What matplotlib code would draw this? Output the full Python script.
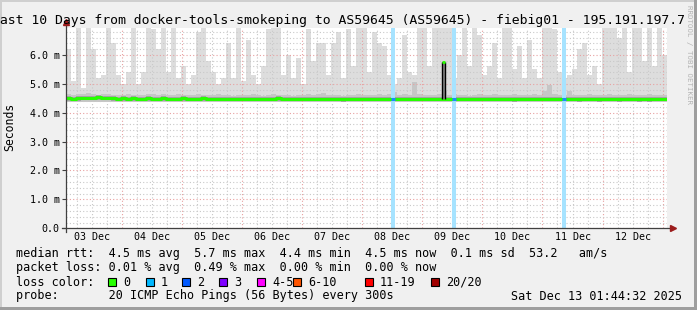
import numpy as np
import matplotlib.pyplot as plt
from matplotlib.patches import Rectangle
from matplotlib.transforms import blended_transform_factory

W, H = 697, 310

# time axis: hours since 03 Dec 00:00, 2 hour bins starting 03 Dec 01:44
t_start = 1.73
bin_h = 2.0

# top of the smoke (max rtt) per bin, ms
smoke_max = [6.2, 5.1, 7.2, 4.85, 7.2, 6.2, 5.2, 5.3, 7.2, 6.4, 5.3, 5.0,
             5.4, 7.2, 5.0, 5.4, 7.2, 6.9, 6.2, 7.2, 5.4, 7.2, 5.2, 5.6,
             5.0, 5.3, 6.8, 7.2, 5.8, 5.4, 5.0, 5.2, 6.4, 5.2, 7.2, 5.1,
             6.5, 5.3, 5.0, 5.6, 6.9, 7.2, 7.2, 5.3, 6.0, 5.2, 5.9, 5.0,
             6.9, 5.8, 6.4, 6.4, 5.3, 6.4, 6.8, 5.2, 6.9, 5.6, 7.2, 7.2,
             5.4, 6.8, 6.4, 6.3, 5.3, 5.0, 5.2, 6.7, 5.4, 5.3, 7.2, 7.2,
             5.6, 7.2, 7.2, 7.2, 7.2, 5.2, 6.0, 7.2, 5.6, 7.2, 6.7, 5.3,
             5.6, 6.4, 5.2, 7.2, 7.2, 5.5, 6.3, 5.2, 6.5, 5.5, 5.2, 7.2,
             7.2, 6.9, 5.4, 5.2, 5.3, 5.5, 6.2, 6.4, 5.3, 5.6, 5.0, 7.2,
             7.2, 7.2, 6.6, 7.2, 5.4, 7.2, 7.2, 5.8, 7.2, 5.6, 7.2, 6.0]

# top of the denser inner smoke band per bin, ms
smoke_mid = [4.64, 4.62, 4.66, 4.64, 4.68, 4.66, 4.62, 4.64, 4.65, 4.62, 4.60, 4.62,
             4.63, 4.62, 4.60, 4.62, 4.63, 4.66, 4.62, 4.63, 4.60, 4.62, 4.63, 4.62,
             4.60, 4.62, 4.63, 4.62, 4.60, 4.62, 4.63, 4.62, 4.60, 4.59, 4.62, 4.60,
             4.62, 4.63, 4.60, 4.59, 4.62, 4.63, 4.62, 4.60, 4.62, 4.59, 4.60, 4.62,
             4.63, 4.62, 4.66, 4.68, 4.62, 4.60, 4.62, 4.59, 4.60, 4.62, 4.63, 4.62,
             4.60, 4.62, 4.63, 4.62, 4.65, 4.70, 4.60, 4.63, 4.62, 5.05, 4.63, 4.62,
             4.62, 4.60, 4.63, 4.75, 4.62, 4.63, 4.62, 4.60, 4.59, 4.62, 4.63, 4.60,
             4.62, 4.63, 4.62, 4.60, 4.62, 4.63, 4.62, 4.60, 4.62, 4.63, 4.62, 4.75,
             4.95, 4.63, 4.62, 4.60, 4.75, 4.62, 4.60, 4.62, 4.63, 4.62, 4.60, 4.62,
             4.63, 4.62, 4.60, 4.62, 4.63, 4.62, 4.60, 4.62, 4.63, 4.60, 4.62, 4.60]
smoke_floor = 4.36

# median rtt per bin, ms
median_ms = [4.50, 4.49, 4.50, 4.51, 4.52, 4.52, 4.53, 4.51, 4.52, 4.50, 4.49, 4.50,
             4.49, 4.50, 4.48, 4.49, 4.50, 4.49, 4.48, 4.50, 4.49, 4.48, 4.49, 4.50,
             4.49, 4.48, 4.49, 4.50, 4.48, 4.47, 4.48, 4.49, 4.48, 4.49, 4.48, 4.47,
             4.48, 4.49, 4.48, 4.47, 4.48, 4.49, 4.50, 4.48, 4.47, 4.48, 4.49, 4.48,
             4.47, 4.48, 4.47, 4.48, 4.49, 4.48, 4.47, 4.46, 4.48, 4.49, 4.48, 4.47,
             4.48, 4.47, 4.49, 4.48, 4.47, 4.48, 4.49, 4.48, 4.47, 4.48, 4.47, 4.48,
             4.48, 4.47, 4.48, 4.49, 4.48, 4.47, 4.48, 4.47, 4.48, 4.49, 4.48, 4.47,
             4.48, 4.49, 4.47, 4.48, 4.47, 4.46, 4.48, 4.47, 4.48, 4.47, 4.48, 4.49,
             4.48, 4.47, 4.48, 4.47, 4.48, 4.47, 4.46, 4.47, 4.48, 4.47, 4.46, 4.47,
             4.48, 4.47, 4.46, 4.47, 4.48, 4.47, 4.46, 4.47, 4.46, 4.47, 4.48, 4.47]

# packet loss events (hours) and the single median spike
loss_hours = [132.4, 156.6, 200.7]
spike_hours = [151.9]
spike_ms = [5.75]

day_labels = ["03 Dec", "04 Dec", "05 Dec", "06 Dec", "07 Dec",
              "08 Dec", "09 Dec", "10 Dec", "11 Dec", "12 Dec"]
ytick_labels = ["0.0", "1.0 m", "2.0 m", "3.0 m", "4.0 m", "5.0 m", "6.0 m"]

title = "Last 10 Days from docker-tools-smokeping to AS59645 (AS59645) - fiebig01 - 195.191.197.7"
row_rtt = "median rtt:  4.5 ms avg  5.7 ms max  4.4 ms min  4.5 ms now  0.1 ms sd  53.2   am/s"
row_loss = "packet loss: 0.01 % avg  0.49 % max  0.00 % min  0.00 % now"
row_probe = "probe:       20 ICMP Echo Pings (56 Bytes) every 300s"
stamp = "Sat Dec 13 01:44:32 2025"
loss_labels = ["0", "1", "2", "3", "4-5", "6-10", "11-19", "20/20"]
loss_colors = ["#26ff00", "#00b8ff", "#0059ff", "#7e00ff",
               "#ff00ff", "#ff5500", "#ff0000", "#a10000"]
loss_box_x = [108, 146, 182, 219, 257, 293, 365, 431]

MONO = "DejaVu Sans Mono"
plt.rcParams['font.family'] = MONO


def fx(x):
    return x / W


def fy(y):
    return 1 - y / H


def stepped(v):
    v = np.asarray(v, dtype=float)
    return np.append(v, v[-1])


fig = plt.figure(figsize=(W / 100, H / 100), dpi=100, facecolor="#f0f0f0")
ax = fig.add_axes([fx(66), fy(228.3), fx(667) - fx(66), fy(28) - fy(228.3)])
ax.set_facecolor("white")

t = t_start + bin_h * np.arange(len(smoke_max) + 1)
med = stepped(median_ms)

# smoke layers
ax.fill_between(t, smoke_floor, stepped(smoke_max), step='post', color="#dddddd", lw=0, zorder=1)
ax.fill_between(t, smoke_floor + 0.02, stepped(smoke_mid), step='post', color="#c6c6c6", lw=0, zorder=2)
ax.fill_between(t, med - 0.08, med + 0.07, step='post', color="#a4a4a4", lw=0, zorder=3)

# loss background bands
for h in loss_hours:
    ax.axvspan(h - 0.8, h + 0.8, color="#a6e3ff", lw=0, zorder=4)

# median
ax.step(t, med, where='post', color="#26ff00", lw=2.2, zorder=6)
for h in loss_hours:
    i = int((h - t_start) // bin_h)
    ax.plot([h - 0.8, h + 0.8], [median_ms[i], median_ms[i]], color="#1e88ff", lw=2.2, zorder=7,
            solid_capstyle='butt')
for h, v in zip(spike_hours, spike_ms):
    i = int((h - t_start) // bin_h)
    base = median_ms[i]
    ax.fill_between([h, h + 1.0], base, v, color="#888888", lw=0, zorder=6)
    ax.vlines([h, h + 1.0], base, v, color="black", lw=1.0, zorder=7)
    ax.plot([h, h + 1.0], [v, v], color="#26ff00", lw=2.0, zorder=8, solid_capstyle='butt')

# limits and grid
ax.set_xlim(t_start, t_start + 240)
ax.set_ylim(0, 6.93)
ax.set_xticks(np.arange(24, 241, 24))
ax.set_xticks(np.arange(6, 241, 6), minor=True)
ax.set_yticks(np.arange(0, 7))
ax.set_yticks(np.arange(0, 6.9, 0.2), minor=True)
ax.set_yticklabels(ytick_labels, fontsize=7.2)
ax.set_xticklabels([])
ax.grid(which='minor', color="#c8c8c8", ls=(0, (1, 2)), lw=0.8, zorder=5)
ax.grid(which='major', color="#e8a0a0", ls=(0, (1, 2)), lw=0.8, zorder=5)
ax.set_axisbelow(False)
ax.tick_params(axis='x', which='both', length=0)
ax.tick_params(axis='y', which='minor', length=0)
ax.tick_params(axis='y', which='major', length=3, width=0.8, color="#404040", pad=1.5)
for s in ax.spines.values():
    s.set_visible(False)

# axes with arrows
ax.plot([0, 0], [-0.02, 1.025], transform=ax.transAxes, color="#404040", lw=0.9, clip_on=False, zorder=9)
ax.plot([-0.007, 1.005], [0, 0], transform=ax.transAxes, color="#404040", lw=0.9, clip_on=False, zorder=9)
ax.plot([0], [1.03], marker='^', ms=4, color="#9b1c1c", transform=ax.transAxes, clip_on=False, zorder=10)
ax.plot([1.01], [0], marker='>', ms=4, color="#9b1c1c", transform=ax.transAxes, clip_on=False, zorder=10)

# day labels centred at noon
tr = blended_transform_factory(ax.transData, fig.transFigure)
for k, lab in enumerate(day_labels):
    ax.text(24 * k + 12, fy(237.5), lab, transform=tr, ha='center', va='center', fontsize=7.2)

# texts
fig.text(fx(-7.5), fy(24), title, ha='left', va='baseline', fontsize=9.45)
fig.text(fx(10), fy(127), "Seconds", rotation=90, ha='center', va='center', fontsize=8.3)
fig.text(fx(688.5), fy(5), "RRDTOOL / TOBI OETIKER", rotation=270, ha='center', va='top',
         fontsize=5.3, color="#b4b4b4")

fig.text(fx(16), fy(254), row_rtt, va='center', fontsize=8.5)
fig.text(fx(16), fy(268), row_loss, va='center', fontsize=8.5)
fig.text(fx(16), fy(282), "loss color:", va='center', fontsize=8.5)
for x, lab, c in zip(loss_box_x, loss_labels, loss_colors):
    fig.add_artist(Rectangle((fx(x), fy(286)), 8 / W, 8 / H, transform=fig.transFigure,
                             facecolor=c, edgecolor="black", lw=0.8))
    fig.text(fx(x + 15), fy(282), lab, va='center', fontsize=8.5)
fig.text(fx(16), fy(296), row_probe, va='center', fontsize=8.5)
fig.text(fx(682), fy(296), stamp, ha='right', va='center', fontsize=8.5)

# 3d frame
fig.add_artist(Rectangle((0, fy(2)), 1, 2 / H, transform=fig.transFigure, color="#cfcfcf", lw=0))
fig.add_artist(Rectangle((0, 0), 2 / W, 1, transform=fig.transFigure, color="#cfcfcf", lw=0))
fig.add_artist(Rectangle((fx(694), 0), 3 / W, 1, transform=fig.transFigure, color="#9e9e9e", lw=0))
fig.add_artist(Rectangle((0, 0), 1, 3 / H, transform=fig.transFigure, color="#9e9e9e", lw=0))

fig.savefig("out.png", dpi=100, facecolor=fig.get_facecolor())
